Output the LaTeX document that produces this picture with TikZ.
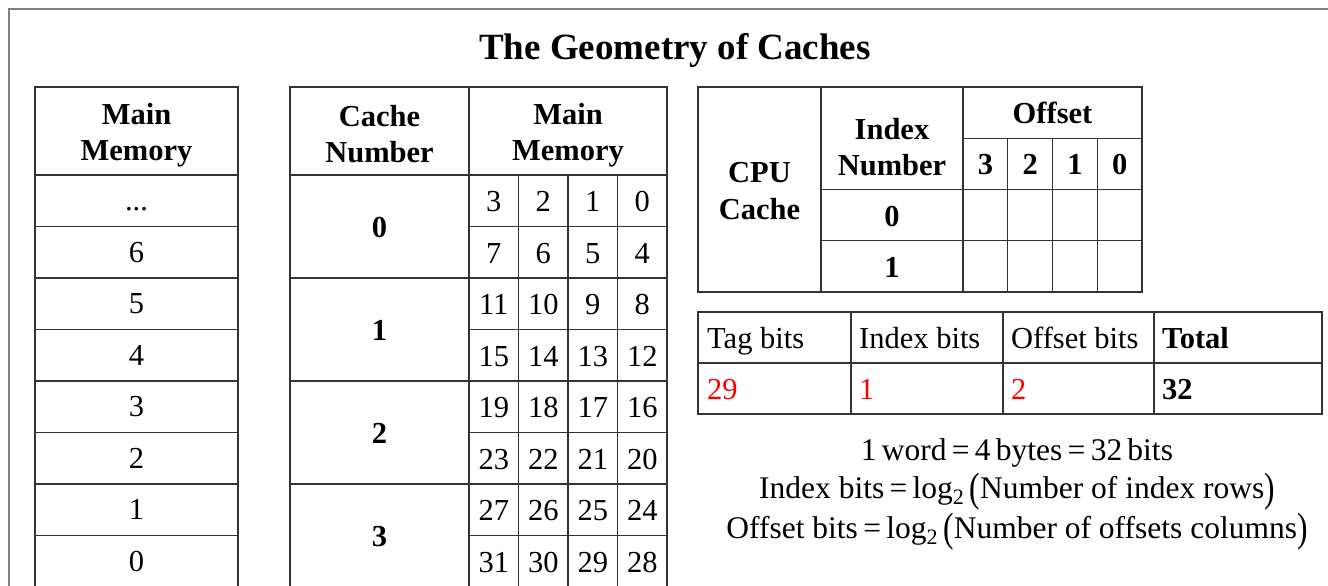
\documentclass[tikz,border=0pt]{standalone}
\usepackage{fontspec}
\setmainfont{Liberation Serif}
\newcommand{\cellfont}{\fontsize{30.5}{36.5}\selectfont}
\newcommand{\tallpar}[1]{\raisebox{-3pt}{\scalebox{1}[1.3]{#1}}}
\tikzset{
  tabline/.style={draw=black!80, line width=1.2pt},
  cell/.style={font=\cellfont, inner sep=0pt, text height=20pt, text depth=0pt},
  bcell/.style={cell, font=\cellfont\bfseries},
  head/.style={font=\cellfont\bfseries, align=center, inner sep=0pt},
  lcell/.style={cell, anchor=west},
  formula/.style={cell, font=\fontsize{31.5}{37}\selectfont},
}

\begin{document}
\begin{tikzpicture}[x=1pt,y=-1pt]
\useasboundingbox (0,0) rectangle (1328,586);
\clip (0,0) rectangle (1328,586);
% outline
\draw[black!50, line width=1.8pt] (9,600) |- (1340,9);
\node[font=\fontsize{37}{44}\selectfont\bfseries] (title) at (675,50) {The Geometry of Caches};

% main memory
\draw[tabline] (35,600) |- (238,87) -- (238,600)
      (35,175) -- (238,175);
\foreach \i in {1,...,7} \draw[tabline] (35,175+51.5*\i) -- (238,175+51.5*\i);
\node[head] (mmhead) at (136.5,135) {Main\\Memory};
\node[cell] (mm1) at (136.5,200.75) {...};
\foreach \t [count=\i from 2] in {6,5,4,3,2,1,0}
  \node[cell] (mm\i) at (136.5,149.25+51.5*\i) {\t};

% cache number / main memory
\draw[tabline] (290,600) |- (667,87) -- (667,600)
      (469,87) -- (469,600)
      (290,175) -- (667,175);
\foreach \r in {1,2,3} \draw[tabline] (290,175+103*\r) -- (667,175+103*\r);
\foreach \r in {0,...,3} \draw[tabline] (469,226.5+103*\r) -- (667,226.5+103*\r);
\foreach \c in {1,2,3} \draw[tabline] (469+49.5*\c,175) -- (469+49.5*\c,600);
\node[head] (cnhead) at (379.5,134) {Cache\\Number};
\node[head] (mwhead) at (568,135) {Main\\Memory};
\foreach \r in {0,...,3} {
  \node[bcell] (cn\r) at (379.5,227.5+103*\r) {\r};
  \foreach \s in {0,1} \foreach \c in {0,...,3} {
    \pgfmathtruncatemacro\v{8*\r+4*\s+3-\c}
    \node[cell] (w\v) at (493.75+49.5*\c,201.75+103*\r+51.5*\s) {\v};
  }
}

% cpu cache
\draw[tabline] (698,87) rectangle (1142,292)
      (821,87) -- (821,292)
      (963,87) -- (963,292)
      (963,138.25) -- (1142,138.25)
      (821,189.5) -- (1142,189.5)
      (821,240.75) -- (1142,240.75);
\foreach \c in {1,2,3} \draw[tabline] (963+44.75*\c,138.25) -- (963+44.75*\c,292);
\node[head] (cpu) at (759.5,191) {CPU\\Cache};
\node[head] (idxhead) at (892,147) {Index\\Number};
\node[bcell] (offhead) at (1052.5,113.6) {Offset};
\foreach \t [count=\c from 0] in {3,2,1,0}
  \node[bcell] (off\t) at (985.4+44.75*\c,164.9) {\t};
\node[bcell] (idx0) at (892,216.1) {0};
\node[bcell] (idx1) at (892,267.4) {1};

% bits
\draw[tabline] (698,312) rectangle (1322,414)
      (698,363) -- (1322,363)
      (851,312) -- (851,414)
      (1003,312) -- (1003,414)
      (1154,312) -- (1154,414);
\node[lcell] (tag) at (707,338.5) {Tag bits};
\node[lcell] (index) at (859,338.5) {Index bits};
\node[lcell] (offset) at (1011,338.5) {Offset bits};
\node[lcell, font=\cellfont\bfseries] (total) at (1162,338.5) {Total};
\node[lcell, red] (tagv) at (707,389.5) {29};
\node[lcell, red] (indexv) at (859,389.5) {1};
\node[lcell, red] (offsetv) at (1011,389.5) {2};
\node[lcell, font=\cellfont\bfseries] (totalv) at (1162,389.5) {32};

% formulas
\node[formula] (word) at (1017,450.5) {1\,word\,=\,4\,bytes\,=\,32\,bits};
\node[formula] (idxf) at (1017,488) {Index bits\,=\,log\textsubscript{2}\,\tallpar{(}Number of index rows\tallpar{)}};
\node[formula] (offf) at (1017,528) {Offset bits\,=\,log\textsubscript{2}\,\tallpar{(}Number of offsets columns\tallpar{)}};
\end{tikzpicture}
\end{document}
